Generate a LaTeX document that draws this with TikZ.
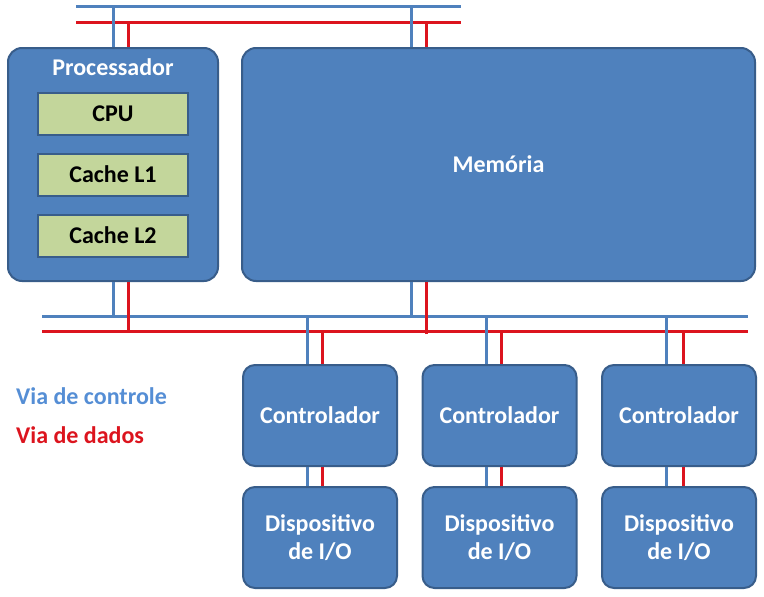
\documentclass[tikz,border=0pt]{standalone}
\usepackage{fontspec}
\setmainfont{Carlito}
\definecolor{boxfill}{HTML}{4F81BD}
\definecolor{boxline}{HTML}{385D8A}
\definecolor{greenfill}{HTML}{C3D69B}
\definecolor{ctlblue}{HTML}{4F81BD}
\definecolor{datared}{HTML}{DC141E}
\definecolor{legblue}{HTML}{558ED5}
\begin{document}
\begin{tikzpicture}[x=1pt,y=-1pt,
  bigbox/.style={draw=boxline,line width=2pt,fill=boxfill,rounded corners=14pt,
    minimum width=#1,inner sep=0pt},
  iobox/.style={draw=boxline,line width=2pt,fill=boxfill,rounded corners=12pt,
    minimum width=154pt,minimum height=101pt,inner sep=0pt,align=center,
    text=white,font=\fontsize{24}{28}\selectfont\bfseries},
  cachebox/.style={draw=boxline,line width=2pt,fill=greenfill,
    minimum width=150pt,minimum height=42pt,inner sep=0pt,
    font=\fontsize{24}{28}\selectfont\bfseries},
  wlabel/.style={text=white,font=\fontsize{24}{28}\selectfont\bfseries,inner sep=0pt},
  ctl/.style={draw=ctlblue,line width=3pt},
  dat/.style={draw=datared,line width=3pt},
  legend/.style={font=\fontsize{24}{28}\selectfont\bfseries,anchor=west,inner sep=0pt}]
\useasboundingbox (0,0) rectangle (764,597);

% bus end points
\coordinate (tcL) at (76,6);   \coordinate (tcR) at (461,6);
\coordinate (tdL) at (76,22);  \coordinate (tdR) at (461,22);
\coordinate (bcL) at (42,316); \coordinate (bcR) at (748,316);
\coordinate (bdL) at (42,331); \coordinate (bdR) at (748,331);
% drop points on buses
\coordinate (pc1) at (113,6);  \coordinate (pd1) at (128,22);
\coordinate (mc1) at (411,6);  \coordinate (md1) at (426,22);
\coordinate (pc2) at (113,316); \coordinate (pd2) at (128,331);
\coordinate (mc2) at (411,318); \coordinate (md2) at (426,334);
\coordinate (c1c) at (307,316); \coordinate (c1d) at (322,331);
\coordinate (c2c) at (486,316); \coordinate (c2d) at (501,331);
\coordinate (c3c) at (666,316); \coordinate (c3d) at (683,331);

% buses
\draw[dat] (tdL) -- (tdR);
\draw[ctl] (tcL) -- (tcR);
\draw[dat] (bdL) -- (bdR);
\draw[ctl] (bcL) -- (bcR);

% boxes
\node[bigbox=210pt,minimum height=233pt] (proc) at (113,164.5) {};
\node[bigbox=513pt,minimum height=233pt] (mem) at (498.5,164.5) {};
\node[wlabel] (proclabel) at (113,67) {Processador};
\node[wlabel] (memlabel) at (498.5,164) {Memória};
\node[cachebox] (cpu) at (113,114) {CPU};
\node[cachebox] (l1) at (113,174.5) {Cache L1};
\node[cachebox] (l2) at (113,235.5) {Cache L2};

\node[iobox] (ctrl1) at (320,415.5) {Controlador};
\node[iobox] (ctrl2) at (499.5,415.5) {Controlador};
\node[iobox] (ctrl3) at (679,415.5) {Controlador};
\node[iobox] (dev1) at (320,537.5) {Dispositivo\\de I/O};
\node[iobox] (dev2) at (499.5,537.5) {Dispositivo\\de I/O};
\node[iobox] (dev3) at (679,537.5) {Dispositivo\\de I/O};

% connectors top bus
\draw[ctl] (pc1) -- (pc1 |- proc.north);
\draw[dat] (pd1) -- (pd1 |- proc.north);
\draw[ctl] (mc1) -- (mc1 |- mem.north);
\draw[dat] (md1) -- (md1 |- mem.north);
% connectors bottom bus
\draw[ctl] (pc2) -- (pc2 |- proc.south);
\draw[dat] (pd2) -- (pd2 |- proc.south);
\draw[ctl] (mc2) -- (mc2 |- mem.south);
\draw[dat] (md2) -- (md2 |- mem.south);
\draw[ctl] (c1c) -- (c1c |- ctrl1.north);
\draw[dat] (c1d) -- (c1d |- ctrl1.north);
\draw[ctl] (c2c) -- (c2c |- ctrl2.north);
\draw[dat] (c2d) -- (c2d |- ctrl2.north);
\draw[ctl] (c3c) -- (c3c |- ctrl3.north);
\draw[dat] (c3d) -- (c3d |- ctrl3.north);
% controller to device
\draw[ctl] (ctrl1.south -| c1c) -- (dev1.north -| c1c);
\draw[dat] (ctrl1.south -| c1d) -- (dev1.north -| c1d);
\draw[ctl] (ctrl2.south -| c2c) -- (dev2.north -| c2c);
\draw[dat] (ctrl2.south -| c2d) -- (dev2.north -| c2d);
\draw[ctl] (ctrl3.south -| c3c) -- (dev3.north -| c3c);
\draw[dat] (ctrl3.south -| c3d) -- (dev3.north -| c3d);

% legend
\node[legend,text=legblue] (legc) at (16,396) {Via de controle};
\node[legend,text=datared] (legd) at (16,435) {Via de dados};
\end{tikzpicture}
\end{document}
